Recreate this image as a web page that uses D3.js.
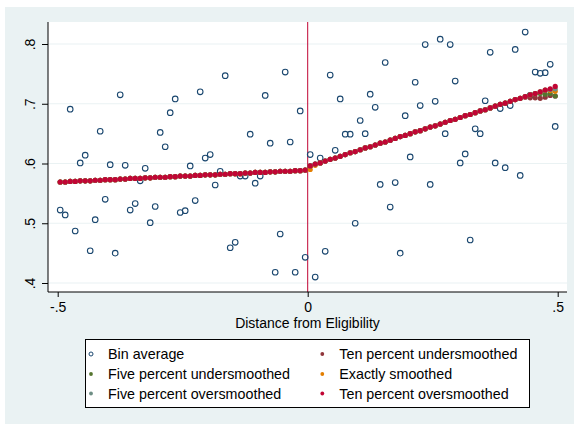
<!DOCTYPE html>
<html>
<head>
<meta charset="utf-8">
<script src="https://cdn.jsdelivr.net/npm/d3@7"></script>
<style>
  body { margin: 0; background: #fff; }
  text { font-family: "Liberation Sans", Arial, sans-serif; fill: #000; }
</style>
</head>
<body>
<div id="chart"></div>
<script>
// bin centres (distance from eligibility)
const binX = [
  -0.495, -0.485, -0.475, -0.465, -0.455, -0.445, -0.435, -0.425, -0.415, -0.405,
  -0.395, -0.385, -0.375, -0.365, -0.355, -0.345, -0.335, -0.325, -0.315, -0.305,
  -0.295, -0.285, -0.275, -0.265, -0.255, -0.245, -0.235, -0.225, -0.215, -0.205,
  -0.195, -0.185, -0.175, -0.165, -0.155, -0.145, -0.135, -0.125, -0.115, -0.105,
  -0.095, -0.085, -0.075, -0.065, -0.055, -0.045, -0.035, -0.025, -0.015, -0.005,
  0.005, 0.015, 0.025, 0.035, 0.045, 0.055, 0.065, 0.075, 0.085, 0.095,
  0.105, 0.115, 0.125, 0.135, 0.145, 0.155, 0.165, 0.175, 0.185, 0.195,
  0.205, 0.215, 0.225, 0.235, 0.245, 0.255, 0.265, 0.275, 0.285, 0.295,
  0.305, 0.315, 0.325, 0.335, 0.345, 0.355, 0.365, 0.375, 0.385, 0.395,
  0.405, 0.415, 0.425, 0.435, 0.445, 0.455, 0.465, 0.475, 0.485, 0.495
];

const binAverage = [
  0.522, 0.514, 0.691, 0.487, 0.601, 0.614, 0.454, 0.506, 0.654, 0.540,
  0.598, 0.450, 0.715, 0.597, 0.522, 0.533, 0.571, 0.592, 0.501, 0.528,
  0.652, 0.628, 0.685, 0.708, 0.518, 0.521, 0.596, 0.538, 0.720, 0.609,
  0.615, 0.564, 0.587, 0.747, 0.459, 0.468, 0.579, 0.579, 0.649, 0.567,
  0.579, 0.714, 0.634, 0.418, 0.482, 0.753, 0.636, 0.418, 0.688, 0.443,
  0.615, 0.410, 0.609, 0.453, 0.748, 0.622, 0.708, 0.649, 0.649, 0.500,
  0.672, 0.650, 0.716, 0.694, 0.565, 0.769, 0.527, 0.568, 0.450, 0.680,
  0.611, 0.736, 0.697, 0.799, 0.565, 0.704, 0.808, 0.650, 0.799, 0.738,
  0.601, 0.616, 0.472, 0.658, 0.650, 0.705, 0.786, 0.601, 0.692, 0.593,
  0.697, 0.791, 0.580, 0.820, 0.714, 0.753, 0.751, 0.752, 0.766, 0.662
];

// local linear fit, common to all bandwidths except where noted
const fitCommon = [
  0.569, 0.569, 0.570, 0.570, 0.571, 0.571, 0.571, 0.572, 0.572, 0.573,
  0.573, 0.573, 0.574, 0.574, 0.575, 0.575, 0.575, 0.576, 0.576, 0.577,
  0.577, 0.577, 0.578, 0.578, 0.579, 0.579, 0.579, 0.580, 0.580, 0.581,
  0.581, 0.581, 0.582, 0.582, 0.583, 0.583, 0.583, 0.584, 0.584, 0.585,
  0.585, 0.585, 0.586, 0.586, 0.587, 0.587, 0.587, 0.588, 0.588, 0.589,
  0.596, 0.599, 0.601, 0.604, 0.607, 0.609, 0.612, 0.615, 0.618, 0.620,
  0.623, 0.626, 0.628, 0.631, 0.634, 0.636, 0.639, 0.642, 0.645, 0.647,
  0.650, 0.653, 0.655, 0.658, 0.661, 0.663, 0.666, 0.669, 0.672, 0.674,
  0.677, 0.680, 0.682, 0.685, 0.688, 0.690, 0.693, 0.696, 0.699, 0.701,
  0.704, 0.707, 0.709, 0.712, 0.715, 0.717, 0.720, 0.723, 0.725, 0.728
];

// [x, y] where a bandwidth departs from the common fit
const tenUnderDiff = [[0.435, 0.711], [0.445, 0.710], [0.455, 0.710], [0.465, 0.709], [0.475, 0.711], [0.485, 0.714], [0.495, 0.713]];
const fiveUnderDiff = [[0.465, 0.717], [0.475, 0.716], [0.485, 0.717], [0.495, 0.713]];
const exactDiff = [[0.005, 0.590], [0.015, 0.597], [0.485, 0.722], [0.495, 0.721]];
const fiveOverDiff = [[0.485, 0.724], [0.495, 0.725]];
const tenOverDiff = [[0.495, 0.729]];

const xTicks = [-0.5, 0, 0.5];
const xTickLabels = ['-.5', '0', '.5'];
const yTicks = [0.4, 0.5, 0.6, 0.7, 0.8];
const yTickLabels = ['.4', '.5', '.6', '.7', '.8'];

const width = 574, height = 424;
const plot = { left: 48, right: 567, top: 22, bottom: 292 };

const svg = d3.select('#chart').append('svg')
  .attr('width', width)
  .attr('height', height);

svg.append('rect').attr('width', width).attr('height', height).attr('fill', '#fff');
svg.append('rect')
  .attr('x', 5).attr('y', 7)
  .attr('width', width - 5).attr('height', height - 7)
  .attr('fill', '#eaf2f3');
svg.append('rect')
  .attr('x', plot.left).attr('y', plot.top)
  .attr('width', plot.right - plot.left).attr('height', plot.bottom - plot.top)
  .attr('fill', '#fff');

const x = d3.scaleLinear().domain([-0.5, 0.5]).range([57.7, 557.7]);
const y = d3.scaleLinear().domain([0.4, 0.8]).range([283, 44]);

// grid
svg.append('g').selectAll('line').data(yTicks).enter()
  .append('line')
  .attr('x1', plot.left).attr('x2', plot.right)
  .attr('y1', d => y(d)).attr('y2', d => y(d))
  .attr('stroke', '#eaf2f3').attr('stroke-width', 1.2);

// cutoff line
svg.append('line')
  .attr('x1', x(0)).attr('x2', x(0))
  .attr('y1', plot.top).attr('y2', plot.bottom)
  .attr('stroke', '#c10534').attr('stroke-width', 1);

// axes
const yAxis = svg.append('g')
  .attr('transform', `translate(${plot.left},0)`)
  .call(d3.axisLeft(y).tickValues(yTicks).tickFormat((d, i) => yTickLabels[i]).tickSize(6));
yAxis.select('.domain').remove();
yAxis.selectAll('text')
  .attr('transform', 'rotate(-90)')
  .attr('x', 0).attr('y', -13).attr('dy', 0)
  .attr('text-anchor', 'middle')
  .style('font-size', '14px');
yAxis.append('line')
  .attr('x1', 0).attr('x2', 0)
  .attr('y1', plot.top).attr('y2', plot.bottom)
  .attr('stroke', '#000');

const xAxis = svg.append('g')
  .attr('transform', `translate(0,${plot.bottom})`)
  .call(d3.axisBottom(x).tickValues(xTicks).tickFormat((d, i) => xTickLabels[i]).tickSize(5).tickPadding(5));
xAxis.select('.domain').remove();
xAxis.selectAll('text').style('font-size', '14px');
xAxis.append('line')
  .attr('x1', plot.left).attr('x2', plot.right)
  .attr('y1', 0).attr('y2', 0)
  .attr('stroke', '#000');

svg.append('text')
  .attr('x', (plot.left + plot.right) / 2).attr('y', 328)
  .attr('text-anchor', 'middle')
  .style('font-size', '14px')
  .text('Distance from Eligibility');

// scatter of bin averages
svg.append('g').selectAll('circle').data(binX).enter()
  .append('circle')
  .attr('cx', d => x(d))
  .attr('cy', (d, i) => y(binAverage[i]))
  .attr('r', 2.8)
  .attr('fill', 'none')
  .attr('stroke', '#1a476f')
  .attr('stroke-width', 1.1);

function series(diff) {
  const m = new Map(diff.map(d => [d[0], d[1]]));
  return binX.map((v, i) => [v, m.has(v) ? m.get(v) : fitCommon[i]]);
}

const fits = [
  { name: 'Ten percent undersmoothed', color: '#90353b', data: series(tenUnderDiff) },
  { name: 'Five percent undersmoothed', color: '#55752f', data: series(fiveUnderDiff) },
  { name: 'Exactly smoothed', color: '#e37e00', data: series(exactDiff) },
  { name: 'Five percent oversmoothed', color: '#6e8e84', data: series(fiveOverDiff) },
  { name: 'Ten percent oversmoothed', color: '#c10534', data: series(tenOverDiff) }
];

fits.forEach(f => {
  svg.append('g').selectAll('circle').data(f.data).enter()
    .append('circle')
    .attr('cx', d => x(d[0]))
    .attr('cy', d => y(d[1]))
    .attr('r', 2.6)
    .attr('fill', f.color);
});

// legend
const legend = svg.append('g');
legend.append('rect')
  .attr('x', 85.5).attr('y', 339.5)
  .attr('width', 444).attr('height', 68)
  .attr('fill', '#fff').attr('stroke', '#000').attr('stroke-width', 1);

const legendItems = [
  { name: 'Bin average', color: '#1a476f', hollow: true, col: 0, row: 0 },
  { name: fits[0].name, color: fits[0].color, col: 1, row: 0 },
  { name: fits[1].name, color: fits[1].color, col: 0, row: 1 },
  { name: fits[2].name, color: fits[2].color, col: 1, row: 1 },
  { name: fits[3].name, color: fits[3].color, col: 0, row: 2 },
  { name: fits[4].name, color: fits[4].color, col: 1, row: 2 }
];
const colX = [91, 322.3];
const rowY = [354, 374, 393.5];

const li = legend.selectAll('g.item').data(legendItems).enter()
  .append('g')
  .attr('transform', d => `translate(${colX[d.col]},${rowY[d.row]})`);
li.append('circle')
  .attr('r', d => d.hollow ? 2 : 1.9)
  .attr('fill', d => d.hollow ? 'none' : d.color)
  .attr('stroke', d => d.hollow ? d.color : 'none')
  .attr('stroke-width', 1);
li.append('text')
  .attr('x', 17).attr('y', 5)
  .style('font-size', '14.3px')
  .text(d => d.name);
</script>
</body>
</html>
